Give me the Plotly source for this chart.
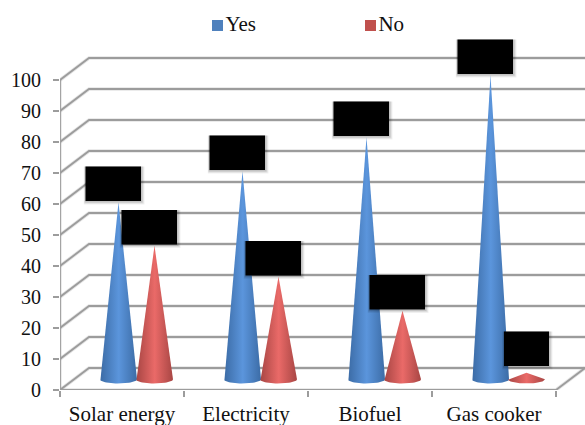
import numpy as np
import plotly.graph_objects as go

categories = ["Solar energy", "Electricity", "Biofuel", "Gas cooker"]
yes_values = [57, 67, 78, 98]
no_values = [43, 33, 22, 2]
y_ticks = list(range(0, 101, 10))

FONT = "Liberation Serif"
PX_X = 124.0      # pixels per category
PX_Y = 3.1        # pixels per value unit
DX = 29 / PX_X    # depth offset of the back wall
DY = 22 / PX_Y
N = len(categories)
GRID = "#9c9c9c"

fig = go.Figure()

# walls and floor
gx, gy = [], []
for v in y_ticks:
    gx += [0, DX, N + DX, None]
    gy += [v, v + DY, v + DY, None]
gx += [0, 0, None, 0, N, N + DX, None]
gy += [0, 100, None, 0, 0, DY, None]
fig.add_trace(go.Scatter(x=gx, y=gy, mode="lines", line=dict(color="rgba(150,150,150,0.25)", width=3.5),
                         hoverinfo="skip", showlegend=False, cliponaxis=False))
fig.add_trace(go.Scatter(x=gx, y=gy, mode="lines", line=dict(color=GRID, width=1.8),
                         hoverinfo="skip", showlegend=False, cliponaxis=False))


def cone(i, value, shift, edge, mid):
    cx = i + 0.5 + DX / 2 + shift
    hw = 18.5 / PX_X
    base = DY / 2 - 0.1
    t = np.linspace(np.pi, 2 * np.pi, 30)
    xs = np.concatenate([[cx], cx + hw * np.cos(t), [cx]])
    ys = np.concatenate([[value + DY / 2], base + 1.35 * np.sin(t), [value + DY / 2]])
    fig.add_trace(go.Scatter(
        x=xs, y=ys, mode="lines", line=dict(width=0), fill="toself",
        fillgradient=dict(type="horizontal", colorscale=[[0, edge], [0.5, mid], [1, edge]]),
        hoverinfo="skip", showlegend=False, cliponaxis=False))


SHIFT = 18 / PX_X
for i, v in enumerate(yes_values):
    cone(i, v, -SHIFT, "#3c6ca6", "#5b95dc")
for i, v in enumerate(no_values):
    cone(i, v, SHIFT, "#a84644", "#ea6a68")

# key above the chart
for name, col, px in (("Yes", "#4f81bd", 217.5), ("No", "#c0504d", 370.5)):
    fig.add_trace(go.Scatter(x=[(px - 60) / PX_X], y=[(390 - 25.5) / PX_Y], mode="markers+text", name=name,
                             text=[name], textposition="middle right",
                             textfont=dict(family=FONT, size=21, color="#111111"),
                             marker=dict(symbol="square", size=11, color=col),
                             hoverinfo="skip", showlegend=False, cliponaxis=False))

# redacted data-label boxes
shapes = []
for values, shift in ((yes_values, -SHIFT), (no_values, SHIFT)):
    for i, v in enumerate(values):
        cx = i + 0.5 + DX / 2 + shift
        x1 = cx + 22.5 / PX_X
        x0 = x1 - (45 if v < 10 else 55.5) / PX_X
        y0 = max(v + DY / 2 + 0.42, 7.74)
        y1 = y0 + 34.5 / PX_Y
        for off, alpha in ((3.5, 0.06), (2.5, 0.08), (1.5, 0.12)):
            shapes.append(dict(type="rect", xref="x", yref="y", layer="above",
                               x0=x0 - off / 2 / PX_X, x1=x1 + off / PX_X,
                               y0=y0 - off / PX_Y, y1=y1,
                               line=dict(width=0), fillcolor=f"rgba(0,0,0,{alpha})"))
        shapes.append(dict(type="rect", xref="x", yref="y", layer="above",
                           x0=x0, x1=x1, y0=y0, y1=y1,
                           line=dict(width=0), fillcolor="#000000"))

fig.update_layout(
    width=585, height=425,
    margin=dict(l=60, r=0, t=0, b=35, autoexpand=False),
    paper_bgcolor="white", plot_bgcolor="white",
    font=dict(family=FONT, size=20, color="#111111"),
    shapes=shapes,
    showlegend=False,
    xaxis=dict(range=[0, N + DX], showgrid=False, zeroline=False, showline=False, fixedrange=True,
               tickmode="array", tickvals=[i + 0.5 for i in range(N)], ticktext=categories,
               ticks="", tickfont=dict(family=FONT, size=21), ticklabelstandoff=9,
               minor=dict(tickmode="linear", tick0=0, dtick=1, ticks="outside", ticklen=6,
                          tickwidth=1.8, tickcolor=GRID, showgrid=False)),
    yaxis=dict(range=[0, 390 / PX_Y], showgrid=False, zeroline=False, showline=False, fixedrange=True,
               tickmode="array", tickvals=y_ticks, ticks="outside", ticklen=6, tickwidth=1.8,
               tickcolor=GRID, tickfont=dict(family=FONT, size=20), ticklabelstandoff=8),
)
fig.write_html("out.html", config=dict(displayModeBar=False),
               post_script="document.body.style.margin='0';document.documentElement.style.overflow='hidden';")
